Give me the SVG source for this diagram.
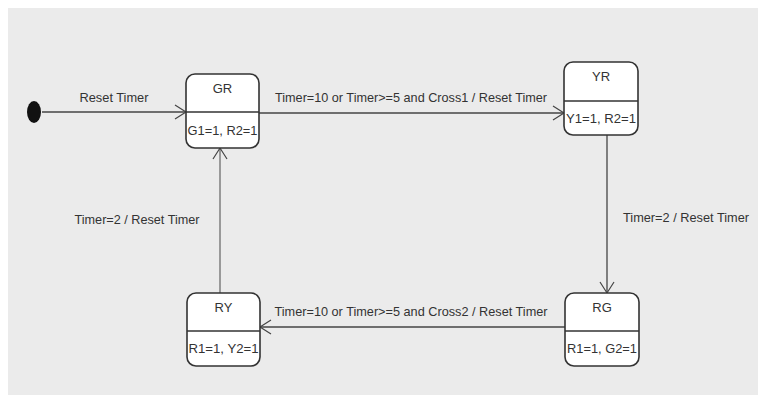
<svg xmlns="http://www.w3.org/2000/svg" width="758" height="395" viewBox="0 0 758 395">
<defs>
<style>
.bg{fill:#ebebeb}
.state rect{fill:#ffffff;stroke:#333333;stroke-width:1.6}
.state line{stroke:#333333;stroke-width:1.4}
text{font-family:"Liberation Sans",Arial,sans-serif;font-size:13px;fill:#333333}
.lbl{font-size:13px}
.conn{stroke:#444444;stroke-width:1.3;fill:none}
.conn.light{stroke:#999999;stroke-width:2}
</style>
<marker id="arr" markerWidth="14" markerHeight="16" refX="12" refY="8" orient="auto" markerUnits="userSpaceOnUse">
<path d="M1,1 L12,8 L1,15" fill="none" stroke="#444444" stroke-width="1.2"/>
</marker>
</defs>
<rect class="bg" x="8" y="8" width="750" height="387"/>
<g id="connectors">
<g id="c-init-gr">
<line class="conn" x1="42" y1="112" x2="186" y2="112" marker-end="url(#arr)"/>
<text x="114" y="102" text-anchor="middle" textLength="69" lengthAdjust="spacingAndGlyphs">Reset Timer</text>
</g>
<g id="c-gr-yr">
<line class="conn" x1="259" y1="113" x2="564" y2="113" marker-end="url(#arr)"/>
<text x="411" y="102" text-anchor="middle" textLength="272" lengthAdjust="spacingAndGlyphs">Timer=10 or Timer&gt;=5 and Cross1 / Reset Timer</text>
</g>
<g id="c-yr-rg">
<line class="conn" x1="607" y1="135" x2="607" y2="293" marker-end="url(#arr)"/>
<text x="686" y="222" text-anchor="middle" textLength="126" lengthAdjust="spacingAndGlyphs">Timer=2 / Reset Timer</text>
</g>
<g id="c-rg-ry">
<line class="conn" x1="565" y1="327" x2="260" y2="327" marker-end="url(#arr)"/>
<text x="411" y="316" text-anchor="middle" textLength="273" lengthAdjust="spacingAndGlyphs">Timer=10 or Timer&gt;=5 and Cross2 / Reset Timer</text>
</g>
<g id="c-ry-gr">
<line class="conn light" x1="220" y1="293" x2="220" y2="148" marker-end="url(#arr)"/>
<text x="137" y="224" text-anchor="middle" textLength="125" lengthAdjust="spacingAndGlyphs">Timer=2 / Reset Timer</text>
</g>
</g>
<g id="initial">
<ellipse cx="34" cy="112" rx="7" ry="11" fill="#111111"/>
</g>
<g id="GR" class="state">
<rect x="186" y="74" width="73" height="74" rx="9"/>
<line x1="186" y1="112" x2="259" y2="112"/>
<text x="222.5" y="93" text-anchor="middle">GR</text>
<text x="222.5" y="135" text-anchor="middle" textLength="70" lengthAdjust="spacingAndGlyphs">G1=1, R2=1</text>
</g>
<g id="YR" class="state">
<rect x="564" y="62" width="74" height="73" rx="9"/>
<line x1="564" y1="101" x2="638" y2="101"/>
<text x="601" y="81" text-anchor="middle">YR</text>
<text x="601" y="123" text-anchor="middle" textLength="70" lengthAdjust="spacingAndGlyphs">Y1=1, R2=1</text>
</g>
<g id="RY" class="state">
<rect x="187" y="293" width="73" height="73" rx="9"/>
<line x1="187" y1="331" x2="260" y2="331"/>
<text x="223.5" y="312" text-anchor="middle">RY</text>
<text x="223.5" y="353" text-anchor="middle" textLength="70" lengthAdjust="spacingAndGlyphs">R1=1, Y2=1</text>
</g>
<g id="RG" class="state">
<rect x="565" y="293" width="74" height="73" rx="9"/>
<line x1="565" y1="331" x2="639" y2="331"/>
<text x="602" y="312" text-anchor="middle">RG</text>
<text x="602" y="353" text-anchor="middle" textLength="70" lengthAdjust="spacingAndGlyphs">R1=1, G2=1</text>
</g>
</svg>
